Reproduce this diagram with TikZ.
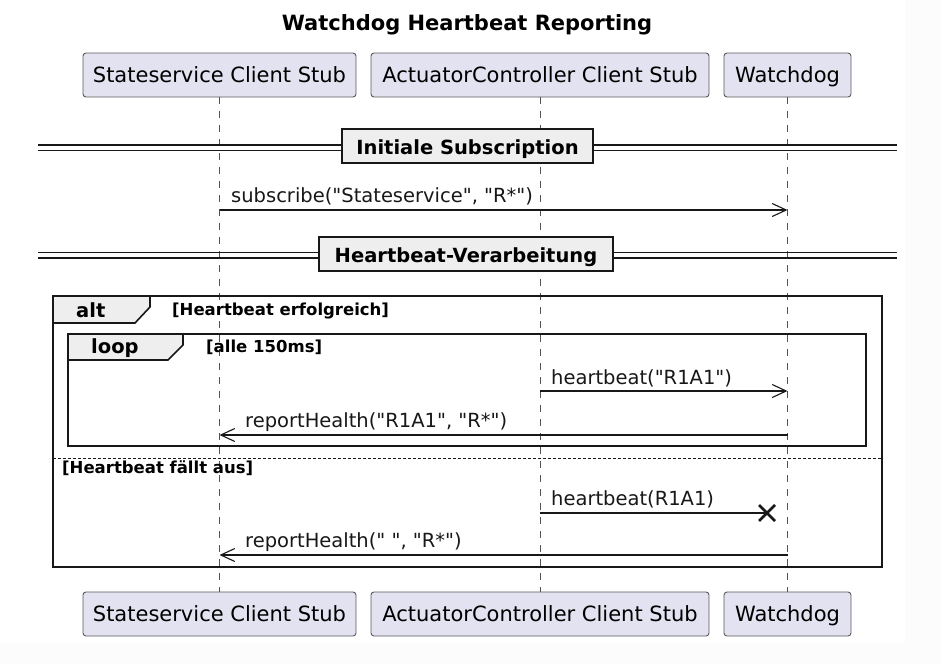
\documentclass[tikz,border=0pt]{standalone}
\usepackage{fontspec}
\setmainfont{DejaVu Sans}[Ligatures=TeXReset]
\usetikzlibrary{arrows.meta,calc}
\definecolor{partfill}{HTML}{E2E2F0}
\definecolor{partdraw}{HTML}{5A5A5A}
\definecolor{grpfill}{HTML}{EEEEEE}
\definecolor{ink}{HTML}{181818}
\definecolor{pagegray}{HTML}{FCFCFC}
\tikzset{
  participant/.style={draw=partdraw, fill=partfill, rounded corners=3pt, line width=0.9pt,
    font=\fontsize{21}{25}\selectfont, text height=19pt, text depth=4.5pt, inner sep=0pt,
    minimum height=44pt},
  lifeline/.style={draw=ink!75, line width=0.8pt, dash pattern=on 7pt off 7pt},
  msgline/.style={draw=ink, line width=1.1pt},
  msgarrow/.style={msgline, -{Straight Barb[length=14pt,width=13pt,line width=1.1pt]}},
  msglabel/.style={font=\fontsize{19.5}{23}\selectfont, anchor=base west, inner sep=0pt, text=ink},
  divbox/.style={draw=ink, fill=grpfill, line width=2.2pt, inner sep=0pt,
    font=\bfseries\fontsize{19.5}{23}\selectfont, text height=20pt, text depth=4pt, minimum height=34pt},
  divline/.style={draw=ink, line width=1.4pt},
  frame/.style={draw=ink, line width=2.2pt},
  tab/.style={draw=ink, fill=grpfill, line width=1.6pt},
  tablabel/.style={font=\bfseries\fontsize{19.5}{23}\selectfont, anchor=base west, inner sep=0pt},
  cond/.style={font=\bfseries\fontsize{16.5}{20}\selectfont, anchor=base west, inner sep=0pt},
  elseline/.style={draw=ink, line width=1pt, dash pattern=on 3pt off 2pt},
}
\begin{document}
\begin{tikzpicture}[x=1pt, y=-1pt]
\useasboundingbox (0,0) rectangle (942,664);
\fill[pagegray] (0,0) rectangle (942,664);
\fill[white] (0,0) rectangle (905,643);

% title
\node[font=\bfseries\fontsize{21}{25}\selectfont, anchor=base, inner sep=0pt] (title) at (467,30) {Watchdog Heartbeat Reporting};

% participants top
\node[participant, minimum width=273pt] (s1) at (219.5,75) {Stateservice Client Stub};
\node[participant, minimum width=338pt] (a1) at (540,75) {ActuatorController Client Stub};
\node[participant, minimum width=127pt] (w1) at (787.5,75) {Watchdog};
% participants bottom
\node[participant, minimum width=273pt] (s2) at (219.5,614) {Stateservice Client Stub};
\node[participant, minimum width=338pt] (a2) at (540,614) {ActuatorController Client Stub};
\node[participant, minimum width=127pt] (w2) at (787.5,614) {Watchdog};

% lifelines
\draw[lifeline] (s1.south) -- (s2.north);
\draw[lifeline] (a1.south) -- (a2.north);
\draw[lifeline] (w1.south) -- (w2.north);

% divider 1
\draw[divline] (38,145) -- (897,145);
\draw[divline] (38,150.5) -- (897,150.5);
\node[divbox, minimum width=251pt] (d1) at (467.5,146) {Initiale Subscription};

% subscribe
\coordinate (m1s) at (219.5,210);
\coordinate (m1e) at (787.5,210);
\draw[msgarrow] (m1s) -- (m1e);
\node[msglabel] (l1) at (231,202) {subscribe("Stateservice", "R*")};

% divider 2
\draw[divline] (38,252.5) -- (897,252.5);
\draw[divline] (38,258) -- (897,258);
\node[divbox, minimum width=294pt] (d2) at (466,254) {Heartbeat-Verarbeitung};

% alt frame
\draw[frame] (53,296) rectangle (882,567);
\draw[tab] (53,296) -- (150,296) -- (150,307) -- (135,323) -- (53,323) -- cycle;
\draw[frame] (53,296) -- (882,296);
\node[tablabel] (alt) at (76,317) {alt};
\node[cond] (c1) at (172,315) {[Heartbeat erfolgreich]};

% loop frame
\draw[frame] (68,334) rectangle (866,446);
\draw[tab] (68,334) -- (183,334) -- (183,345) -- (168,360) -- (68,360) -- cycle;
\draw[frame] (68,334) -- (866,334);
\node[tablabel] (loop) at (91,353) {loop};
\node[cond] (c2) at (206,352) {[alle 150ms]};

% heartbeat("R1A1")
\coordinate (m2s) at (540,391);
\coordinate (m2e) at (787.5,391);
\draw[msgarrow] (m2s) -- (m2e);
\node[msglabel] (l2) at (551,384) {heartbeat("R1A1")};

% reportHealth("R1A1", "R*")
\coordinate (m3s) at (787.5,435);
\coordinate (m3e) at (219.5,435);
\draw[msgarrow] (m3s) -- (m3e);
\node[msglabel] (l3) at (245,427) {reportHealth("R1A1", "R*")};

% else
\draw[elseline] (53,458) -- (882,458);
\node[cond] (c3) at (62,473) {[Heartbeat fällt aus]};

% heartbeat(R1A1) lost
\coordinate (m4s) at (540,513);
\coordinate (lost) at (767,513);
\draw[msgline] (m4s) -- (lost);
\draw[draw=ink, line width=2.6pt] ($(lost)+(-8,-8)$) -- ($(lost)+(8,8)$);
\draw[draw=ink, line width=2.6pt] ($(lost)+(-8,8)$) -- ($(lost)+(8,-8)$);
\node[msglabel] (l4) at (551,505) {heartbeat(R1A1)};

% reportHealth(" ", "R*")
\coordinate (m5s) at (787.5,555);
\coordinate (m5e) at (219.5,555);
\draw[msgarrow] (m5s) -- (m5e);
\node[msglabel] (l5) at (245,547) {reportHealth(" ", "R*")};
\end{tikzpicture}
\end{document}
